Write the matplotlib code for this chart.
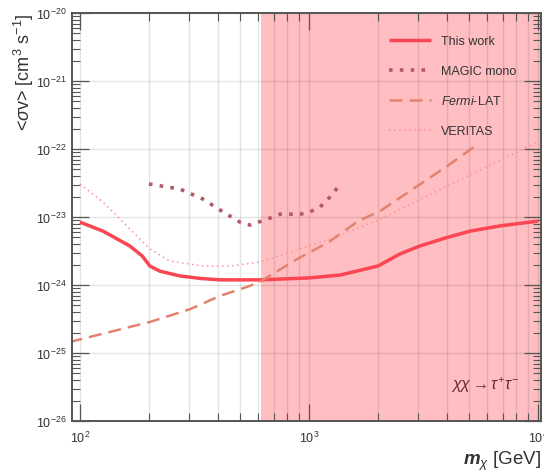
import numpy as np
import matplotlib
matplotlib.use("Agg")
import matplotlib.pyplot as plt
from matplotlib.ticker import LogLocator, NullFormatter

plt.rcParams['font.family'] = ['Liberation Sans', 'DejaVu Sans']
plt.rcParams['mathtext.fontset'] = 'custom'
plt.rcParams['mathtext.rm'] = 'Liberation Sans'
plt.rcParams['mathtext.it'] = 'Liberation Sans:italic'
plt.rcParams['mathtext.bf'] = 'Liberation Sans:bold'
plt.rcParams['mathtext.bfit'] = 'Liberation Sans:bold:italic'

# upper limits on <sigma v>, chi chi -> tau+ tau-
mass_this = [100, 126, 165, 187, 202, 223, 273, 334, 408, 611, 1000, 1365, 2000,
             2494, 3050, 3926, 5050, 6830, 10000]
sv_this = [8.4e-24, 6.2e-24, 3.75e-24, 2.67e-24, 1.9e-24, 1.6e-24, 1.36e-24,
           1.25e-24, 1.19e-24, 1.19e-24, 1.27e-24, 1.4e-24, 1.9e-24,
           2.86e-24, 3.75e-24, 4.9e-24, 6.2e-24, 7.4e-24, 8.7e-24]

mass_magic = [200, 273, 344, 421, 500, 552, 656, 747, 913, 1010, 1117, 1235, 1340]
sv_magic = [3.06e-23, 2.58e-23, 1.84e-23, 1.19e-23, 8.4e-24, 7.6e-24, 9.3e-24,
            1.1e-23, 1.1e-23, 1.19e-23, 1.4e-23, 1.97e-23, 2.76e-23]

mass_fermi = [90, 202, 302, 408, 552, 620, 887, 1235, 1637, 2043, 2845, 4008, 5310]
sv_fermi = [1.45e-25, 2.86e-25, 4.4e-25, 6.9e-25, 9.7e-25, 1.15e-24, 2.4e-24,
            4.4e-24, 8.7e-24, 1.22e-23, 2.58e-23, 5.6e-23, 1.1e-22]

mass_veritas = [100, 126, 165, 202, 247, 344, 452, 611, 913, 1365, 2043, 5050, 10000]
sv_veritas = [3.06e-23, 1.66e-23, 6.7e-24, 3.39e-24, 2.25e-24, 1.9e-24, 1.9e-24,
              2.18e-24, 3.39e-24, 5.4e-24, 9.3e-24, 4.15e-23, 1.27e-22]

# mass range beyond the shaded boundary
shade_start = 620
x_range = (92.3, 10300)
y_range = (1e-26, 1e-20)

fig = plt.figure(figsize=(5.44, 4.77), dpi=100)
ax = fig.add_axes([72 / 544, 1 - 422 / 477, 469 / 544, 408 / 477])

ax.axvspan(shade_start, x_range[1], color='#ffbec1', zorder=0.2, lw=0)

ax.plot(mass_this, sv_this, color='#fa4653', lw=2.5, label='This work',
        solid_capstyle='butt', solid_joinstyle='round')
ax.plot(mass_magic, sv_magic, color='#b45a66', lw=2.6, ls=(0, (1, 2)),
        label='MAGIC mono')
ax.plot(mass_fermi, sv_fermi, color='#e3836f', lw=1.8, ls=(0, (5.2, 2.8)),
        label=r'$\mathit{Fermi}$-LAT')
ax.plot(mass_veritas, sv_veritas, color='#ff8f99', lw=1.1, ls=(0, (1, 2.3)),
        label='VERITAS')

ax.set_xscale('log')
ax.set_yscale('log')
ax.set_xlim(*x_range)
ax.set_ylim(*y_range)

ax.xaxis.set_minor_locator(LogLocator(base=10, subs=np.arange(2, 10)))
ax.yaxis.set_minor_locator(LogLocator(base=10, subs=np.arange(2, 10), numticks=20))
ax.yaxis.set_major_locator(LogLocator(base=10, numticks=20))
ax.xaxis.set_minor_formatter(NullFormatter())
ax.yaxis.set_minor_formatter(NullFormatter())

ax.set_axisbelow(True)
ax.grid(True, which='major', color='k', alpha=0.1, lw=1.0)
ax.grid(True, which='minor', axis='x', color='k', alpha=0.1, lw=1.0)

ax.tick_params(which='both', direction='in', top=True, right=True,
               colors='#555555', labelcolor='#333333', labelsize=9)
ax.tick_params(which='major', length=12, width=0.9)
ax.tick_params(which='minor', length=6, width=0.8)
ax.tick_params(axis='y', pad=4)
ax.tick_params(axis='x', pad=6)

for sp in ax.spines.values():
    sp.set_color('#555555')
    sp.set_linewidth(1.4)

ax.set_ylabel(r'<$\sigma$v> [cm$^{3}$ s$^{-1}$]', loc='top', fontsize=13,
              color='#333333', labelpad=0)
ax.set_xlabel(r'$\mathbfit{m}_{\chi}$ [GeV]', loc='right', fontsize=13.5,
              color='#333333', labelpad=3)

ax.legend(loc='upper left', bbox_to_anchor=(0.675, 0.945), frameon=False,
          fontsize=9, handlelength=3.4, labelspacing=1.4, borderpad=0,
          borderaxespad=0, handletextpad=0.8, labelcolor='#333333')

ax.text(0.88, 0.09, r'$\chi\chi\rightarrow\tau^{+}\tau^{-}$', transform=ax.transAxes,
        ha='center', va='center', fontsize=11.5, color='#6b2a33')

fig.savefig('out.png', dpi=100)
